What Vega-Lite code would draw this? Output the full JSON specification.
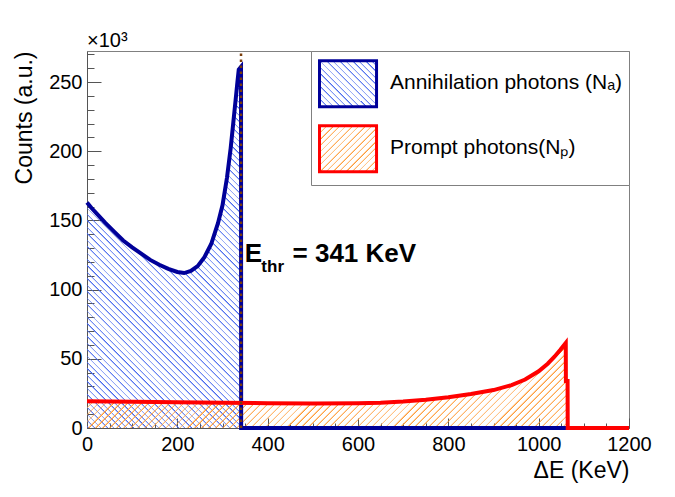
{
  "$schema": "https://vega.github.io/schema/vega-lite/v6.json",
  "width": 542,
  "height": 377,
  "autosize": "none",
  "padding": {"left": 87, "top": 51, "right": 46, "bottom": 69},
  "background": "white",
  "title": {"text": "×10³", "anchor": "start", "frame": "group", "fontSize": 20, "fontWeight": "normal", "font": "Liberation Sans", "color": "#000", "offset": -7},
  "datasets": {
    "spectra": [
      {"E": 0, "counts": 163000, "source": "a"},
      {"E": 10, "counts": 159000, "source": "a"},
      {"E": 20, "counts": 155500, "source": "a"},
      {"E": 40, "counts": 148500, "source": "a"},
      {"E": 60, "counts": 142000, "source": "a"},
      {"E": 80, "counts": 135500, "source": "a"},
      {"E": 100, "counts": 130500, "source": "a"},
      {"E": 120, "counts": 126000, "source": "a"},
      {"E": 140, "counts": 121500, "source": "a"},
      {"E": 160, "counts": 118000, "source": "a"},
      {"E": 180, "counts": 115000, "source": "a"},
      {"E": 200, "counts": 112800, "source": "a"},
      {"E": 215, "counts": 112000, "source": "a"},
      {"E": 230, "counts": 113500, "source": "a"},
      {"E": 245, "counts": 117000, "source": "a"},
      {"E": 260, "counts": 123500, "source": "a"},
      {"E": 275, "counts": 133000, "source": "a"},
      {"E": 290, "counts": 148000, "source": "a"},
      {"E": 300, "counts": 161000, "source": "a"},
      {"E": 310, "counts": 181000, "source": "a"},
      {"E": 318, "counts": 202000, "source": "a"},
      {"E": 324, "counts": 221000, "source": "a"},
      {"E": 329, "counts": 237000, "source": "a"},
      {"E": 333, "counts": 250000, "source": "a"},
      {"E": 336, "counts": 259000, "source": "a"},
      {"E": 341, "counts": 261000, "source": "a"},
      {"E": 341.3, "counts": 0, "source": "a"},
      {"E": 1200, "counts": 0, "source": "a"},
      {"E": 0, "counts": 19300, "source": "p"},
      {"E": 100, "counts": 19000, "source": "p"},
      {"E": 200, "counts": 18700, "source": "p"},
      {"E": 300, "counts": 18300, "source": "p"},
      {"E": 400, "counts": 17900, "source": "p"},
      {"E": 500, "counts": 17700, "source": "p"},
      {"E": 600, "counts": 17800, "source": "p"},
      {"E": 650, "counts": 18200, "source": "p"},
      {"E": 700, "counts": 19100, "source": "p"},
      {"E": 750, "counts": 20500, "source": "p"},
      {"E": 800, "counts": 22300, "source": "p"},
      {"E": 850, "counts": 24600, "source": "p"},
      {"E": 900, "counts": 27400, "source": "p"},
      {"E": 940, "counts": 31000, "source": "p"},
      {"E": 970, "counts": 35000, "source": "p"},
      {"E": 1000, "counts": 41000, "source": "p"},
      {"E": 1020, "counts": 46500, "source": "p"},
      {"E": 1035, "counts": 51500, "source": "p"},
      {"E": 1048, "counts": 56500, "source": "p"},
      {"E": 1060, "counts": 61500, "source": "p"},
      {"E": 1060.3, "counts": 34000, "source": "p"},
      {"E": 1064, "counts": 34000, "source": "p"},
      {"E": 1064.3, "counts": 0, "source": "p"},
      {"E": 1200, "counts": 0, "source": "p"}
    ]
  },
  "data": {"name": "spectra"},
  "encoding": {
    "x": {
      "field": "E", "type": "quantitative",
      "scale": {"domain": [0, 1200], "nice": false, "zero": false},
      "axis": {
        "values": [0, 50, 100, 150, 200, 250, 300, 350, 400, 450, 500, 550, 600, 650, 700, 750, 800, 850, 900, 950, 1000, 1050, 1100, 1150, 1200],
        "labelExpr": "datum.value % 200 === 0 ? datum.label : ''",
        "format": "d",
        "labelFlush": false, "labelOverlap": false,
        "tickSize": {"condition": {"test": "datum.value % 200 === 0", "value": -10}, "value": -5},
        "labelPadding": 16,
        "title": "ΔE (KeV)", "titleAnchor": "end", "titlePadding": 0
      }
    },
    "y": {
      "field": "counts", "type": "quantitative",
      "scale": {"domain": [0, 272500], "nice": false},
      "axis": {
        "values": [0, 10000, 20000, 30000, 40000, 50000, 60000, 70000, 80000, 90000, 100000, 110000, 120000, 130000, 140000, 150000, 160000, 170000, 180000, 190000, 200000, 210000, 220000, 230000, 240000, 250000, 260000, 270000],
        "labelExpr": "datum.value % 50000 === 0 ? format(datum.value / 1000, 'd') : ''",
        "labelOverlap": false, "labelFlush": false,
        "tickSize": {"condition": {"test": "datum.value % 50000 === 0", "value": -14}, "value": -7},
        "labelPadding": 19,
        "title": "Counts (a.u.)", "titleAnchor": "end", "titleFontSize": 23, "titlePadding": 12
      }
    }
  },
  "layer": [
    {
      "transform": [{"filter": "datum.source === 'a' && datum.E <= 341"}],
      "mark": {"type": "area", "interpolate": "linear", "fill": {"gradient": "linear", "x1": 0, "y1": 1, "x2": 0.5148, "y2": -0.2069, "stops": [
        {"offset": 0, "color": "#46e0"}, {"offset": 0.004, "color": "#46e"}, {"offset": 0.004, "color": "#46e0"},
        {"offset": 0.0125, "color": "#46e0"}, {"offset": 0.0165, "color": "#46e"}, {"offset": 0.0165, "color": "#46e0"},
        {"offset": 0.025, "color": "#46e0"}, {"offset": 0.029, "color": "#46e"}, {"offset": 0.029, "color": "#46e0"},
        {"offset": 0.0375, "color": "#46e0"}, {"offset": 0.0415, "color": "#46e"}, {"offset": 0.0415, "color": "#46e0"},
        {"offset": 0.05, "color": "#46e0"}, {"offset": 0.054, "color": "#46e"}, {"offset": 0.054, "color": "#46e0"},
        {"offset": 0.0625, "color": "#46e0"}, {"offset": 0.0665, "color": "#46e"}, {"offset": 0.0665, "color": "#46e0"},
        {"offset": 0.075, "color": "#46e0"}, {"offset": 0.079, "color": "#46e"}, {"offset": 0.079, "color": "#46e0"},
        {"offset": 0.0875, "color": "#46e0"}, {"offset": 0.0915, "color": "#46e"}, {"offset": 0.0915, "color": "#46e0"},
        {"offset": 0.1, "color": "#46e0"}, {"offset": 0.104, "color": "#46e"}, {"offset": 0.104, "color": "#46e0"},
        {"offset": 0.1125, "color": "#46e0"}, {"offset": 0.1165, "color": "#46e"}, {"offset": 0.1165, "color": "#46e0"},
        {"offset": 0.125, "color": "#46e0"}, {"offset": 0.129, "color": "#46e"}, {"offset": 0.129, "color": "#46e0"},
        {"offset": 0.1375, "color": "#46e0"}, {"offset": 0.1415, "color": "#46e"}, {"offset": 0.1415, "color": "#46e0"},
        {"offset": 0.15, "color": "#46e0"}, {"offset": 0.154, "color": "#46e"}, {"offset": 0.154, "color": "#46e0"},
        {"offset": 0.1625, "color": "#46e0"}, {"offset": 0.1665, "color": "#46e"}, {"offset": 0.1665, "color": "#46e0"},
        {"offset": 0.175, "color": "#46e0"}, {"offset": 0.179, "color": "#46e"}, {"offset": 0.179, "color": "#46e0"},
        {"offset": 0.1875, "color": "#46e0"}, {"offset": 0.1915, "color": "#46e"}, {"offset": 0.1915, "color": "#46e0"},
        {"offset": 0.2, "color": "#46e0"}, {"offset": 0.204, "color": "#46e"}, {"offset": 0.204, "color": "#46e0"},
        {"offset": 0.2125, "color": "#46e0"}, {"offset": 0.2165, "color": "#46e"}, {"offset": 0.2165, "color": "#46e0"},
        {"offset": 0.225, "color": "#46e0"}, {"offset": 0.229, "color": "#46e"}, {"offset": 0.229, "color": "#46e0"},
        {"offset": 0.2375, "color": "#46e0"}, {"offset": 0.2415, "color": "#46e"}, {"offset": 0.2415, "color": "#46e0"},
        {"offset": 0.25, "color": "#46e0"}, {"offset": 0.254, "color": "#46e"}, {"offset": 0.254, "color": "#46e0"},
        {"offset": 0.2625, "color": "#46e0"}, {"offset": 0.2665, "color": "#46e"}, {"offset": 0.2665, "color": "#46e0"},
        {"offset": 0.275, "color": "#46e0"}, {"offset": 0.279, "color": "#46e"}, {"offset": 0.279, "color": "#46e0"},
        {"offset": 0.2875, "color": "#46e0"}, {"offset": 0.2915, "color": "#46e"}, {"offset": 0.2915, "color": "#46e0"},
        {"offset": 0.3, "color": "#46e0"}, {"offset": 0.304, "color": "#46e"}, {"offset": 0.304, "color": "#46e0"},
        {"offset": 0.3125, "color": "#46e0"}, {"offset": 0.3165, "color": "#46e"}, {"offset": 0.3165, "color": "#46e0"},
        {"offset": 0.325, "color": "#46e0"}, {"offset": 0.329, "color": "#46e"}, {"offset": 0.329, "color": "#46e0"},
        {"offset": 0.3375, "color": "#46e0"}, {"offset": 0.3415, "color": "#46e"}, {"offset": 0.3415, "color": "#46e0"},
        {"offset": 0.35, "color": "#46e0"}, {"offset": 0.354, "color": "#46e"}, {"offset": 0.354, "color": "#46e0"},
        {"offset": 0.3625, "color": "#46e0"}, {"offset": 0.3665, "color": "#46e"}, {"offset": 0.3665, "color": "#46e0"},
        {"offset": 0.375, "color": "#46e0"}, {"offset": 0.379, "color": "#46e"}, {"offset": 0.379, "color": "#46e0"},
        {"offset": 0.3875, "color": "#46e0"}, {"offset": 0.3915, "color": "#46e"}, {"offset": 0.3915, "color": "#46e0"},
        {"offset": 0.4, "color": "#46e0"}, {"offset": 0.404, "color": "#46e"}, {"offset": 0.404, "color": "#46e0"},
        {"offset": 0.4125, "color": "#46e0"}, {"offset": 0.4165, "color": "#46e"}, {"offset": 0.4165, "color": "#46e0"},
        {"offset": 0.425, "color": "#46e0"}, {"offset": 0.429, "color": "#46e"}, {"offset": 0.429, "color": "#46e0"},
        {"offset": 0.4375, "color": "#46e0"}, {"offset": 0.4415, "color": "#46e"}, {"offset": 0.4415, "color": "#46e0"},
        {"offset": 0.45, "color": "#46e0"}, {"offset": 0.454, "color": "#46e"}, {"offset": 0.454, "color": "#46e0"},
        {"offset": 0.4625, "color": "#46e0"}, {"offset": 0.4665, "color": "#46e"}, {"offset": 0.4665, "color": "#46e0"},
        {"offset": 0.475, "color": "#46e0"}, {"offset": 0.479, "color": "#46e"}, {"offset": 0.479, "color": "#46e0"},
        {"offset": 0.4875, "color": "#46e0"}, {"offset": 0.4915, "color": "#46e"}, {"offset": 0.4915, "color": "#46e0"},
        {"offset": 0.5, "color": "#46e0"}, {"offset": 0.504, "color": "#46e"}, {"offset": 0.504, "color": "#46e0"},
        {"offset": 0.5125, "color": "#46e0"}, {"offset": 0.5165, "color": "#46e"}, {"offset": 0.5165, "color": "#46e0"},
        {"offset": 0.525, "color": "#46e0"}, {"offset": 0.529, "color": "#46e"}, {"offset": 0.529, "color": "#46e0"},
        {"offset": 0.5375, "color": "#46e0"}, {"offset": 0.5415, "color": "#46e"}, {"offset": 0.5415, "color": "#46e0"},
        {"offset": 0.55, "color": "#46e0"}, {"offset": 0.554, "color": "#46e"}, {"offset": 0.554, "color": "#46e0"},
        {"offset": 0.5625, "color": "#46e0"}, {"offset": 0.5665, "color": "#46e"}, {"offset": 0.5665, "color": "#46e0"},
        {"offset": 0.575, "color": "#46e0"}, {"offset": 0.579, "color": "#46e"}, {"offset": 0.579, "color": "#46e0"},
        {"offset": 0.5875, "color": "#46e0"}, {"offset": 0.5915, "color": "#46e"}, {"offset": 0.5915, "color": "#46e0"},
        {"offset": 0.6, "color": "#46e0"}, {"offset": 0.604, "color": "#46e"}, {"offset": 0.604, "color": "#46e0"},
        {"offset": 0.6125, "color": "#46e0"}, {"offset": 0.6165, "color": "#46e"}, {"offset": 0.6165, "color": "#46e0"},
        {"offset": 0.625, "color": "#46e0"}, {"offset": 0.629, "color": "#46e"}, {"offset": 0.629, "color": "#46e0"},
        {"offset": 0.6375, "color": "#46e0"}, {"offset": 0.6415, "color": "#46e"}, {"offset": 0.6415, "color": "#46e0"},
        {"offset": 0.65, "color": "#46e0"}, {"offset": 0.654, "color": "#46e"}, {"offset": 0.654, "color": "#46e0"},
        {"offset": 0.6625, "color": "#46e0"}, {"offset": 0.6665, "color": "#46e"}, {"offset": 0.6665, "color": "#46e0"},
        {"offset": 0.675, "color": "#46e0"}, {"offset": 0.679, "color": "#46e"}, {"offset": 0.679, "color": "#46e0"},
        {"offset": 0.6875, "color": "#46e0"}, {"offset": 0.6915, "color": "#46e"}, {"offset": 0.6915, "color": "#46e0"},
        {"offset": 0.7, "color": "#46e0"}, {"offset": 0.704, "color": "#46e"}, {"offset": 0.704, "color": "#46e0"},
        {"offset": 0.7125, "color": "#46e0"}, {"offset": 0.7165, "color": "#46e"}, {"offset": 0.7165, "color": "#46e0"},
        {"offset": 0.725, "color": "#46e0"}, {"offset": 0.729, "color": "#46e"}, {"offset": 0.729, "color": "#46e0"},
        {"offset": 0.7375, "color": "#46e0"}, {"offset": 0.7415, "color": "#46e"}, {"offset": 0.7415, "color": "#46e0"},
        {"offset": 0.75, "color": "#46e0"}, {"offset": 0.754, "color": "#46e"}, {"offset": 0.754, "color": "#46e0"},
        {"offset": 0.7625, "color": "#46e0"}, {"offset": 0.7665, "color": "#46e"}, {"offset": 0.7665, "color": "#46e0"},
        {"offset": 0.775, "color": "#46e0"}, {"offset": 0.779, "color": "#46e"}, {"offset": 0.779, "color": "#46e0"},
        {"offset": 0.7875, "color": "#46e0"}, {"offset": 0.7915, "color": "#46e"}, {"offset": 0.7915, "color": "#46e0"},
        {"offset": 0.8, "color": "#46e0"}, {"offset": 0.804, "color": "#46e"}, {"offset": 0.804, "color": "#46e0"},
        {"offset": 0.8125, "color": "#46e0"}, {"offset": 0.8165, "color": "#46e"}, {"offset": 0.8165, "color": "#46e0"},
        {"offset": 0.825, "color": "#46e0"}, {"offset": 0.829, "color": "#46e"}, {"offset": 0.829, "color": "#46e0"},
        {"offset": 0.8375, "color": "#46e0"}, {"offset": 0.8415, "color": "#46e"}, {"offset": 0.8415, "color": "#46e0"},
        {"offset": 0.85, "color": "#46e0"}, {"offset": 0.854, "color": "#46e"}, {"offset": 0.854, "color": "#46e0"},
        {"offset": 0.8625, "color": "#46e0"}, {"offset": 0.8665, "color": "#46e"}, {"offset": 0.8665, "color": "#46e0"},
        {"offset": 0.875, "color": "#46e0"}, {"offset": 0.879, "color": "#46e"}, {"offset": 0.879, "color": "#46e0"},
        {"offset": 0.8875, "color": "#46e0"}, {"offset": 0.8915, "color": "#46e"}, {"offset": 0.8915, "color": "#46e0"},
        {"offset": 0.9, "color": "#46e0"}, {"offset": 0.904, "color": "#46e"}, {"offset": 0.904, "color": "#46e0"},
        {"offset": 0.9125, "color": "#46e0"}, {"offset": 0.9165, "color": "#46e"}, {"offset": 0.9165, "color": "#46e0"},
        {"offset": 0.925, "color": "#46e0"}, {"offset": 0.929, "color": "#46e"}, {"offset": 0.929, "color": "#46e0"},
        {"offset": 0.9375, "color": "#46e0"}, {"offset": 0.9415, "color": "#46e"}, {"offset": 0.9415, "color": "#46e0"},
        {"offset": 0.95, "color": "#46e0"}, {"offset": 0.954, "color": "#46e"}, {"offset": 0.954, "color": "#46e0"},
        {"offset": 0.9625, "color": "#46e0"}, {"offset": 0.9665, "color": "#46e"}, {"offset": 0.9665, "color": "#46e0"},
        {"offset": 0.975, "color": "#46e0"}, {"offset": 0.979, "color": "#46e"}, {"offset": 0.979, "color": "#46e0"},
        {"offset": 0.9875, "color": "#46e0"}, {"offset": 0.9915, "color": "#46e"}, {"offset": 0.9915, "color": "#46e0"}
      ]}}
    },
    {
      "transform": [{"filter": "datum.source === 'p' && datum.E <= 1064"}],
      "mark": {"type": "area", "interpolate": "linear", "fill": {"gradient": "linear", "x1": 0, "y1": 0, "x2": 1.1413, "y2": 0.2021, "stops": [
        {"offset": 0, "color": "#f930"}, {"offset": 0.004, "color": "#f93"}, {"offset": 0.004, "color": "#f930"},
        {"offset": 0.0125, "color": "#f930"}, {"offset": 0.0165, "color": "#f93"}, {"offset": 0.0165, "color": "#f930"},
        {"offset": 0.025, "color": "#f930"}, {"offset": 0.029, "color": "#f93"}, {"offset": 0.029, "color": "#f930"},
        {"offset": 0.0375, "color": "#f930"}, {"offset": 0.0415, "color": "#f93"}, {"offset": 0.0415, "color": "#f930"},
        {"offset": 0.05, "color": "#f930"}, {"offset": 0.054, "color": "#f93"}, {"offset": 0.054, "color": "#f930"},
        {"offset": 0.0625, "color": "#f930"}, {"offset": 0.0665, "color": "#f93"}, {"offset": 0.0665, "color": "#f930"},
        {"offset": 0.075, "color": "#f930"}, {"offset": 0.079, "color": "#f93"}, {"offset": 0.079, "color": "#f930"},
        {"offset": 0.0875, "color": "#f930"}, {"offset": 0.0915, "color": "#f93"}, {"offset": 0.0915, "color": "#f930"},
        {"offset": 0.1, "color": "#f930"}, {"offset": 0.104, "color": "#f93"}, {"offset": 0.104, "color": "#f930"},
        {"offset": 0.1125, "color": "#f930"}, {"offset": 0.1165, "color": "#f93"}, {"offset": 0.1165, "color": "#f930"},
        {"offset": 0.125, "color": "#f930"}, {"offset": 0.129, "color": "#f93"}, {"offset": 0.129, "color": "#f930"},
        {"offset": 0.1375, "color": "#f930"}, {"offset": 0.1415, "color": "#f93"}, {"offset": 0.1415, "color": "#f930"},
        {"offset": 0.15, "color": "#f930"}, {"offset": 0.154, "color": "#f93"}, {"offset": 0.154, "color": "#f930"},
        {"offset": 0.1625, "color": "#f930"}, {"offset": 0.1665, "color": "#f93"}, {"offset": 0.1665, "color": "#f930"},
        {"offset": 0.175, "color": "#f930"}, {"offset": 0.179, "color": "#f93"}, {"offset": 0.179, "color": "#f930"},
        {"offset": 0.1875, "color": "#f930"}, {"offset": 0.1915, "color": "#f93"}, {"offset": 0.1915, "color": "#f930"},
        {"offset": 0.2, "color": "#f930"}, {"offset": 0.204, "color": "#f93"}, {"offset": 0.204, "color": "#f930"},
        {"offset": 0.2125, "color": "#f930"}, {"offset": 0.2165, "color": "#f93"}, {"offset": 0.2165, "color": "#f930"},
        {"offset": 0.225, "color": "#f930"}, {"offset": 0.229, "color": "#f93"}, {"offset": 0.229, "color": "#f930"},
        {"offset": 0.2375, "color": "#f930"}, {"offset": 0.2415, "color": "#f93"}, {"offset": 0.2415, "color": "#f930"},
        {"offset": 0.25, "color": "#f930"}, {"offset": 0.254, "color": "#f93"}, {"offset": 0.254, "color": "#f930"},
        {"offset": 0.2625, "color": "#f930"}, {"offset": 0.2665, "color": "#f93"}, {"offset": 0.2665, "color": "#f930"},
        {"offset": 0.275, "color": "#f930"}, {"offset": 0.279, "color": "#f93"}, {"offset": 0.279, "color": "#f930"},
        {"offset": 0.2875, "color": "#f930"}, {"offset": 0.2915, "color": "#f93"}, {"offset": 0.2915, "color": "#f930"},
        {"offset": 0.3, "color": "#f930"}, {"offset": 0.304, "color": "#f93"}, {"offset": 0.304, "color": "#f930"},
        {"offset": 0.3125, "color": "#f930"}, {"offset": 0.3165, "color": "#f93"}, {"offset": 0.3165, "color": "#f930"},
        {"offset": 0.325, "color": "#f930"}, {"offset": 0.329, "color": "#f93"}, {"offset": 0.329, "color": "#f930"},
        {"offset": 0.3375, "color": "#f930"}, {"offset": 0.3415, "color": "#f93"}, {"offset": 0.3415, "color": "#f930"},
        {"offset": 0.35, "color": "#f930"}, {"offset": 0.354, "color": "#f93"}, {"offset": 0.354, "color": "#f930"},
        {"offset": 0.3625, "color": "#f930"}, {"offset": 0.3665, "color": "#f93"}, {"offset": 0.3665, "color": "#f930"},
        {"offset": 0.375, "color": "#f930"}, {"offset": 0.379, "color": "#f93"}, {"offset": 0.379, "color": "#f930"},
        {"offset": 0.3875, "color": "#f930"}, {"offset": 0.3915, "color": "#f93"}, {"offset": 0.3915, "color": "#f930"},
        {"offset": 0.4, "color": "#f930"}, {"offset": 0.404, "color": "#f93"}, {"offset": 0.404, "color": "#f930"},
        {"offset": 0.4125, "color": "#f930"}, {"offset": 0.4165, "color": "#f93"}, {"offset": 0.4165, "color": "#f930"},
        {"offset": 0.425, "color": "#f930"}, {"offset": 0.429, "color": "#f93"}, {"offset": 0.429, "color": "#f930"},
        {"offset": 0.4375, "color": "#f930"}, {"offset": 0.4415, "color": "#f93"}, {"offset": 0.4415, "color": "#f930"},
        {"offset": 0.45, "color": "#f930"}, {"offset": 0.454, "color": "#f93"}, {"offset": 0.454, "color": "#f930"},
        {"offset": 0.4625, "color": "#f930"}, {"offset": 0.4665, "color": "#f93"}, {"offset": 0.4665, "color": "#f930"},
        {"offset": 0.475, "color": "#f930"}, {"offset": 0.479, "color": "#f93"}, {"offset": 0.479, "color": "#f930"},
        {"offset": 0.4875, "color": "#f930"}, {"offset": 0.4915, "color": "#f93"}, {"offset": 0.4915, "color": "#f930"},
        {"offset": 0.5, "color": "#f930"}, {"offset": 0.504, "color": "#f93"}, {"offset": 0.504, "color": "#f930"},
        {"offset": 0.5125, "color": "#f930"}, {"offset": 0.5165, "color": "#f93"}, {"offset": 0.5165, "color": "#f930"},
        {"offset": 0.525, "color": "#f930"}, {"offset": 0.529, "color": "#f93"}, {"offset": 0.529, "color": "#f930"},
        {"offset": 0.5375, "color": "#f930"}, {"offset": 0.5415, "color": "#f93"}, {"offset": 0.5415, "color": "#f930"},
        {"offset": 0.55, "color": "#f930"}, {"offset": 0.554, "color": "#f93"}, {"offset": 0.554, "color": "#f930"},
        {"offset": 0.5625, "color": "#f930"}, {"offset": 0.5665, "color": "#f93"}, {"offset": 0.5665, "color": "#f930"},
        {"offset": 0.575, "color": "#f930"}, {"offset": 0.579, "color": "#f93"}, {"offset": 0.579, "color": "#f930"},
        {"offset": 0.5875, "color": "#f930"}, {"offset": 0.5915, "color": "#f93"}, {"offset": 0.5915, "color": "#f930"},
        {"offset": 0.6, "color": "#f930"}, {"offset": 0.604, "color": "#f93"}, {"offset": 0.604, "color": "#f930"},
        {"offset": 0.6125, "color": "#f930"}, {"offset": 0.6165, "color": "#f93"}, {"offset": 0.6165, "color": "#f930"},
        {"offset": 0.625, "color": "#f930"}, {"offset": 0.629, "color": "#f93"}, {"offset": 0.629, "color": "#f930"},
        {"offset": 0.6375, "color": "#f930"}, {"offset": 0.6415, "color": "#f93"}, {"offset": 0.6415, "color": "#f930"},
        {"offset": 0.65, "color": "#f930"}, {"offset": 0.654, "color": "#f93"}, {"offset": 0.654, "color": "#f930"},
        {"offset": 0.6625, "color": "#f930"}, {"offset": 0.6665, "color": "#f93"}, {"offset": 0.6665, "color": "#f930"},
        {"offset": 0.675, "color": "#f930"}, {"offset": 0.679, "color": "#f93"}, {"offset": 0.679, "color": "#f930"},
        {"offset": 0.6875, "color": "#f930"}, {"offset": 0.6915, "color": "#f93"}, {"offset": 0.6915, "color": "#f930"},
        {"offset": 0.7, "color": "#f930"}, {"offset": 0.704, "color": "#f93"}, {"offset": 0.704, "color": "#f930"},
        {"offset": 0.7125, "color": "#f930"}, {"offset": 0.7165, "color": "#f93"}, {"offset": 0.7165, "color": "#f930"},
        {"offset": 0.725, "color": "#f930"}, {"offset": 0.729, "color": "#f93"}, {"offset": 0.729, "color": "#f930"},
        {"offset": 0.7375, "color": "#f930"}, {"offset": 0.7415, "color": "#f93"}, {"offset": 0.7415, "color": "#f930"},
        {"offset": 0.75, "color": "#f930"}, {"offset": 0.754, "color": "#f93"}, {"offset": 0.754, "color": "#f930"},
        {"offset": 0.7625, "color": "#f930"}, {"offset": 0.7665, "color": "#f93"}, {"offset": 0.7665, "color": "#f930"},
        {"offset": 0.775, "color": "#f930"}, {"offset": 0.779, "color": "#f93"}, {"offset": 0.779, "color": "#f930"},
        {"offset": 0.7875, "color": "#f930"}, {"offset": 0.7915, "color": "#f93"}, {"offset": 0.7915, "color": "#f930"},
        {"offset": 0.8, "color": "#f930"}, {"offset": 0.804, "color": "#f93"}, {"offset": 0.804, "color": "#f930"},
        {"offset": 0.8125, "color": "#f930"}, {"offset": 0.8165, "color": "#f93"}, {"offset": 0.8165, "color": "#f930"},
        {"offset": 0.825, "color": "#f930"}, {"offset": 0.829, "color": "#f93"}, {"offset": 0.829, "color": "#f930"},
        {"offset": 0.8375, "color": "#f930"}, {"offset": 0.8415, "color": "#f93"}, {"offset": 0.8415, "color": "#f930"},
        {"offset": 0.85, "color": "#f930"}, {"offset": 0.854, "color": "#f93"}, {"offset": 0.854, "color": "#f930"},
        {"offset": 0.8625, "color": "#f930"}, {"offset": 0.8665, "color": "#f93"}, {"offset": 0.8665, "color": "#f930"},
        {"offset": 0.875, "color": "#f930"}, {"offset": 0.879, "color": "#f93"}, {"offset": 0.879, "color": "#f930"},
        {"offset": 0.8875, "color": "#f930"}, {"offset": 0.8915, "color": "#f93"}, {"offset": 0.8915, "color": "#f930"},
        {"offset": 0.9, "color": "#f930"}, {"offset": 0.904, "color": "#f93"}, {"offset": 0.904, "color": "#f930"},
        {"offset": 0.9125, "color": "#f930"}, {"offset": 0.9165, "color": "#f93"}, {"offset": 0.9165, "color": "#f930"},
        {"offset": 0.925, "color": "#f930"}, {"offset": 0.929, "color": "#f93"}, {"offset": 0.929, "color": "#f930"},
        {"offset": 0.9375, "color": "#f930"}, {"offset": 0.9415, "color": "#f93"}, {"offset": 0.9415, "color": "#f930"},
        {"offset": 0.95, "color": "#f930"}, {"offset": 0.954, "color": "#f93"}, {"offset": 0.954, "color": "#f930"},
        {"offset": 0.9625, "color": "#f930"}, {"offset": 0.9665, "color": "#f93"}, {"offset": 0.9665, "color": "#f930"},
        {"offset": 0.975, "color": "#f930"}, {"offset": 0.979, "color": "#f93"}, {"offset": 0.979, "color": "#f930"},
        {"offset": 0.9875, "color": "#f930"}, {"offset": 0.9915, "color": "#f93"}, {"offset": 0.9915, "color": "#f930"}
      ]}}
    },
    {
      "transform": [{"filter": "datum.source === 'a'"}],
      "mark": {"type": "line", "strokeWidth": 4, "interpolate": "linear"},
      "encoding": {
        "color": {
          "field": "source", "type": "nominal",
          "scale": {"domain": ["a", "p"], "range": ["#000099", "#ff0000"]},
          "legend": {
            "title": null, "orient": "top-right", "offset": 0, "padding": 7,
            "strokeColor": "#808080", "fillColor": "white",
            "labelExpr": "datum.value === 'a' ? 'Annihilation photons (Nₐ)' : 'Prompt photons(Nₚ)'",
            "labelFont": "Liberation Sans", "labelFontSize": 21, "labelColor": "#000", "labelLimit": 400, "labelOffset": 23,
            "rowPadding": 6, "symbolSize": 2116, "symbolStrokeWidth": 3, "symbolType": "M-1,-0.95H1.48V1.05H-1Z",
            "encode": {"symbols": {"update": {"fill": [
              {"test": "datum.value === 'a'", "value": {"gradient": "linear", "x1": 0, "y1": 1, "x2": 1.0943, "y2": 0.1169, "stops": [
                {"offset": 0, "color": "#46e0"}, {"offset": 0.02, "color": "#46e"}, {"offset": 0.02, "color": "#46e0"},
                {"offset": 0.0625, "color": "#46e0"}, {"offset": 0.0825, "color": "#46e"}, {"offset": 0.0825, "color": "#46e0"},
                {"offset": 0.125, "color": "#46e0"}, {"offset": 0.145, "color": "#46e"}, {"offset": 0.145, "color": "#46e0"},
                {"offset": 0.1875, "color": "#46e0"}, {"offset": 0.2075, "color": "#46e"}, {"offset": 0.2075, "color": "#46e0"},
                {"offset": 0.25, "color": "#46e0"}, {"offset": 0.27, "color": "#46e"}, {"offset": 0.27, "color": "#46e0"},
                {"offset": 0.3125, "color": "#46e0"}, {"offset": 0.3325, "color": "#46e"}, {"offset": 0.3325, "color": "#46e0"},
                {"offset": 0.375, "color": "#46e0"}, {"offset": 0.395, "color": "#46e"}, {"offset": 0.395, "color": "#46e0"},
                {"offset": 0.4375, "color": "#46e0"}, {"offset": 0.4575, "color": "#46e"}, {"offset": 0.4575, "color": "#46e0"},
                {"offset": 0.5, "color": "#46e0"}, {"offset": 0.52, "color": "#46e"}, {"offset": 0.52, "color": "#46e0"},
                {"offset": 0.5625, "color": "#46e0"}, {"offset": 0.5825, "color": "#46e"}, {"offset": 0.5825, "color": "#46e0"},
                {"offset": 0.625, "color": "#46e0"}, {"offset": 0.645, "color": "#46e"}, {"offset": 0.645, "color": "#46e0"},
                {"offset": 0.6875, "color": "#46e0"}, {"offset": 0.7075, "color": "#46e"}, {"offset": 0.7075, "color": "#46e0"},
                {"offset": 0.75, "color": "#46e0"}, {"offset": 0.77, "color": "#46e"}, {"offset": 0.77, "color": "#46e0"},
                {"offset": 0.8125, "color": "#46e0"}, {"offset": 0.8325, "color": "#46e"}, {"offset": 0.8325, "color": "#46e0"},
                {"offset": 0.875, "color": "#46e0"}, {"offset": 0.895, "color": "#46e"}, {"offset": 0.895, "color": "#46e0"},
                {"offset": 0.9375, "color": "#46e0"}, {"offset": 0.9575, "color": "#46e"}, {"offset": 0.9575, "color": "#46e0"}
              ]}},
              {"value": {"gradient": "linear", "x1": 0, "y1": 0, "x2": 1.0943, "y2": 0.8831, "stops": [
                {"offset": 0, "color": "#f930"}, {"offset": 0.02, "color": "#f93"}, {"offset": 0.02, "color": "#f930"},
                {"offset": 0.0625, "color": "#f930"}, {"offset": 0.0825, "color": "#f93"}, {"offset": 0.0825, "color": "#f930"},
                {"offset": 0.125, "color": "#f930"}, {"offset": 0.145, "color": "#f93"}, {"offset": 0.145, "color": "#f930"},
                {"offset": 0.1875, "color": "#f930"}, {"offset": 0.2075, "color": "#f93"}, {"offset": 0.2075, "color": "#f930"},
                {"offset": 0.25, "color": "#f930"}, {"offset": 0.27, "color": "#f93"}, {"offset": 0.27, "color": "#f930"},
                {"offset": 0.3125, "color": "#f930"}, {"offset": 0.3325, "color": "#f93"}, {"offset": 0.3325, "color": "#f930"},
                {"offset": 0.375, "color": "#f930"}, {"offset": 0.395, "color": "#f93"}, {"offset": 0.395, "color": "#f930"},
                {"offset": 0.4375, "color": "#f930"}, {"offset": 0.4575, "color": "#f93"}, {"offset": 0.4575, "color": "#f930"},
                {"offset": 0.5, "color": "#f930"}, {"offset": 0.52, "color": "#f93"}, {"offset": 0.52, "color": "#f930"},
                {"offset": 0.5625, "color": "#f930"}, {"offset": 0.5825, "color": "#f93"}, {"offset": 0.5825, "color": "#f930"},
                {"offset": 0.625, "color": "#f930"}, {"offset": 0.645, "color": "#f93"}, {"offset": 0.645, "color": "#f930"},
                {"offset": 0.6875, "color": "#f930"}, {"offset": 0.7075, "color": "#f93"}, {"offset": 0.7075, "color": "#f930"},
                {"offset": 0.75, "color": "#f930"}, {"offset": 0.77, "color": "#f93"}, {"offset": 0.77, "color": "#f930"},
                {"offset": 0.8125, "color": "#f930"}, {"offset": 0.8325, "color": "#f93"}, {"offset": 0.8325, "color": "#f930"},
                {"offset": 0.875, "color": "#f930"}, {"offset": 0.895, "color": "#f93"}, {"offset": 0.895, "color": "#f930"},
                {"offset": 0.9375, "color": "#f930"}, {"offset": 0.9575, "color": "#f93"}, {"offset": 0.9575, "color": "#f930"}
              ]}}
            ]}}}
          }
        }
      }
    },
    {
      "transform": [{"filter": "datum.source === 'p'"}],
      "mark": {"type": "line", "strokeWidth": 4, "interpolate": "linear"},
      "encoding": {"color": {"field": "source", "type": "nominal"}}
    },
    {
      "transform": [{"filter": "datum.source === 'a' && datum.E === 0"}],
      "mark": {"type": "rule", "color": "#7a3d0a", "strokeWidth": 2.5, "strokeDash": [2.5, 3.5]},
      "encoding": {"x": {"datum": 341, "type": "quantitative"}, "y": {"datum": 0, "type": "quantitative"}, "y2": {"datum": 272500}}
    },
    {
      "transform": [{"filter": "datum.source === 'a' && datum.E === 0"}],
      "mark": {"type": "text", "text": "E", "align": "left", "baseline": "alphabetic", "font": "Liberation Sans", "fontWeight": "bold", "fontSize": 26, "fill": "#000"},
      "encoding": {"x": {"datum": 349, "type": "quantitative"}, "y": {"datum": 119800, "type": "quantitative"}}
    },
    {
      "transform": [{"filter": "datum.source === 'a' && datum.E === 0"}],
      "mark": {"type": "text", "text": "thr", "align": "left", "baseline": "alphabetic", "font": "Liberation Sans", "fontWeight": "bold", "fontSize": 17, "fill": "#000"},
      "encoding": {"x": {"datum": 386, "type": "quantitative"}, "y": {"datum": 112900, "type": "quantitative"}}
    },
    {
      "transform": [{"filter": "datum.source === 'a' && datum.E === 0"}],
      "mark": {"type": "text", "text": "= 341 KeV", "align": "left", "baseline": "alphabetic", "font": "Liberation Sans", "fontWeight": "bold", "fontSize": 26, "fill": "#000"},
      "encoding": {"x": {"datum": 455, "type": "quantitative"}, "y": {"datum": 119800, "type": "quantitative"}}
    }
  ],
  "config": {
    "view": {"stroke": "#808080", "strokeWidth": 1},
    "font": "Liberation Sans",
    "axis": {
      "grid": false, "domainColor": "#555", "tickColor": "#555", "tickWidth": 1,
      "labelColor": "#000", "titleColor": "#000", "labelFont": "Liberation Sans", "titleFont": "Liberation Sans",
      "titleFontWeight": "normal", "labelFontSize": 20, "titleFontSize": 23
    }
  }
}
